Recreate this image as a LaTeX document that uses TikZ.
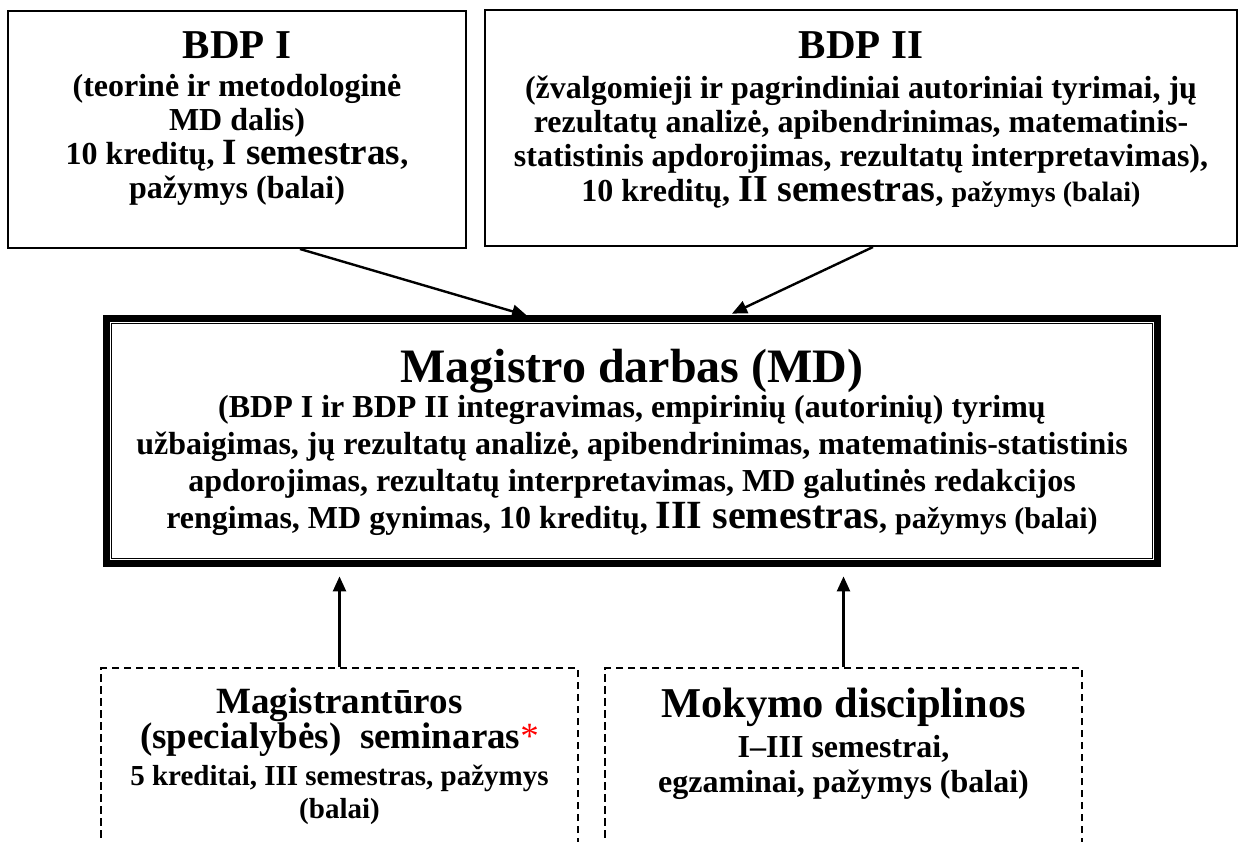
\documentclass[tikz,border=0pt]{standalone}
\usepackage{fontspec}
\setmainfont{Liberation Serif}
\usetikzlibrary{arrows.meta,calc}
\begin{document}
\begin{tikzpicture}[x=1pt,y=-1pt,
  solidbox/.style={draw, line width=2.2pt, inner sep=0pt},
  dashbox/.style={draw, line width=2pt, dash pattern=on 7.5pt off 4.5pt, inner sep=0pt, minimum width=477pt, minimum height=300pt},
  txt/.style={align=center, inner sep=0pt, anchor=north},
  arr/.style={line width=2.4pt, -{Triangle[length=15pt,width=13pt]}},
]
\useasboundingbox (0,0) rectangle (1249,841);
\clip (0,0) rectangle (1249,841);
\fill[white] (0,0) rectangle (1249,841);

% boxes
\node[solidbox, minimum width=457.8pt, minimum height=236.8pt] (bdp1) at (237,129.5) {};
\node[solidbox, minimum width=751.8pt, minimum height=235.8pt] (bdp2) at (861,128) {};
\node[draw, line width=7pt, inner sep=0pt, minimum width=1051pt, minimum height=245pt] (md) at (632,441) {};
\draw[line width=1.1pt] ($(md.north west)+(5.6,5.6)$) rectangle ($(md.south east)+(-5.6,-5.6)$);
\draw[line width=1.1pt] ($(md.north west)+(8.6,8.6)$) rectangle ($(md.south east)+(-8.6,-8.6)$);
\node[dashbox] (sem) at (339.5,818) {};
\node[dashbox] (disc) at (843.5,818) {};

% texts
\node[txt, font=\bfseries\fontsize{32}{34}\selectfont] (bdp1t) at (237,31.9) {%
{\fontsize{41}{34}\selectfont BDP I}\\[4pt]
(teorinė ir metodologinė\\
MD dalis)\\
10 kreditų, {\fontsize{37}{34}\selectfont I semestras},\\
pažymys (balai)};

\node[txt, font=\bfseries\fontsize{32}{34}\selectfont] (bdp2t) at (861,31.5) {%
{\fontsize{41}{34}\selectfont BDP II}\\[6pt]
(žvalgomieji ir pagrindiniai autoriniai tyrimai, jų\\
rezultatų analizė, apibendrinimas, matematinis-\\
statistinis apdorojimas, rezultatų interpretavimas),\\[1pt]
10 kreditų, {\fontsize{38}{34}\selectfont II semestras}, {\fontsize{28}{34}\selectfont pažymys (balai)}};

\node[txt, font=\bfseries\fontsize{32}{37}\selectfont] (mdt) at (632,348.6) {%
{\fontsize{48}{37}\selectfont Magistro darbas (MD)}\\[-2pt]
(BDP I ir BDP II integravimas, empirinių (autorinių) tyrimų\\
užbaigimas, jų rezultatų analizė, apibendrinimas, matematinis-statistinis\\
apdorojimas, rezultatų interpretavimas, MD galutinės redakcijos\\
rengimas, MD gynimas, 10 kreditų, {\fontsize{40}{37}\selectfont III semestras}, {\fontsize{30}{37}\selectfont pažymys (balai)}};

\node[txt, font=\bfseries\fontsize{29}{35}\selectfont] (semt) at (339.5,687.5) {%
{\fontsize{37}{35}\selectfont Magistrantūros}\\
{\fontsize{37}{35}\selectfont (specialybės)\ \ seminaras{\mdseries\color{red}*}}\\[2pt]
5 kreditai, III semestras, pažymys\\[-2pt]
(balai)};

\node[txt, font=\bfseries\fontsize{32}{35}\selectfont] (disct) at (843.5,688.2) {%
{\fontsize{42.5}{35}\selectfont Mokymo disciplinos}\\[5pt]
I–III semestrai,\\
egzaminai, pažymys (balai)};

% connectors
\draw[arr] ($(bdp1.south)+(63,0)$) -- ($(md.north)+(-105,0.6)$);
\draw[arr] ($(bdp2.south)+(12,0)$) -- ($(md.north)+(100,-1.4)$);
\draw[arr] (sem.north) -- ($(sem.north |- md.south)+(0,9.4)$);
\draw[arr] (disc.north) -- ($(disc.north |- md.south)+(0,9.4)$);
\end{tikzpicture}
\end{document}
